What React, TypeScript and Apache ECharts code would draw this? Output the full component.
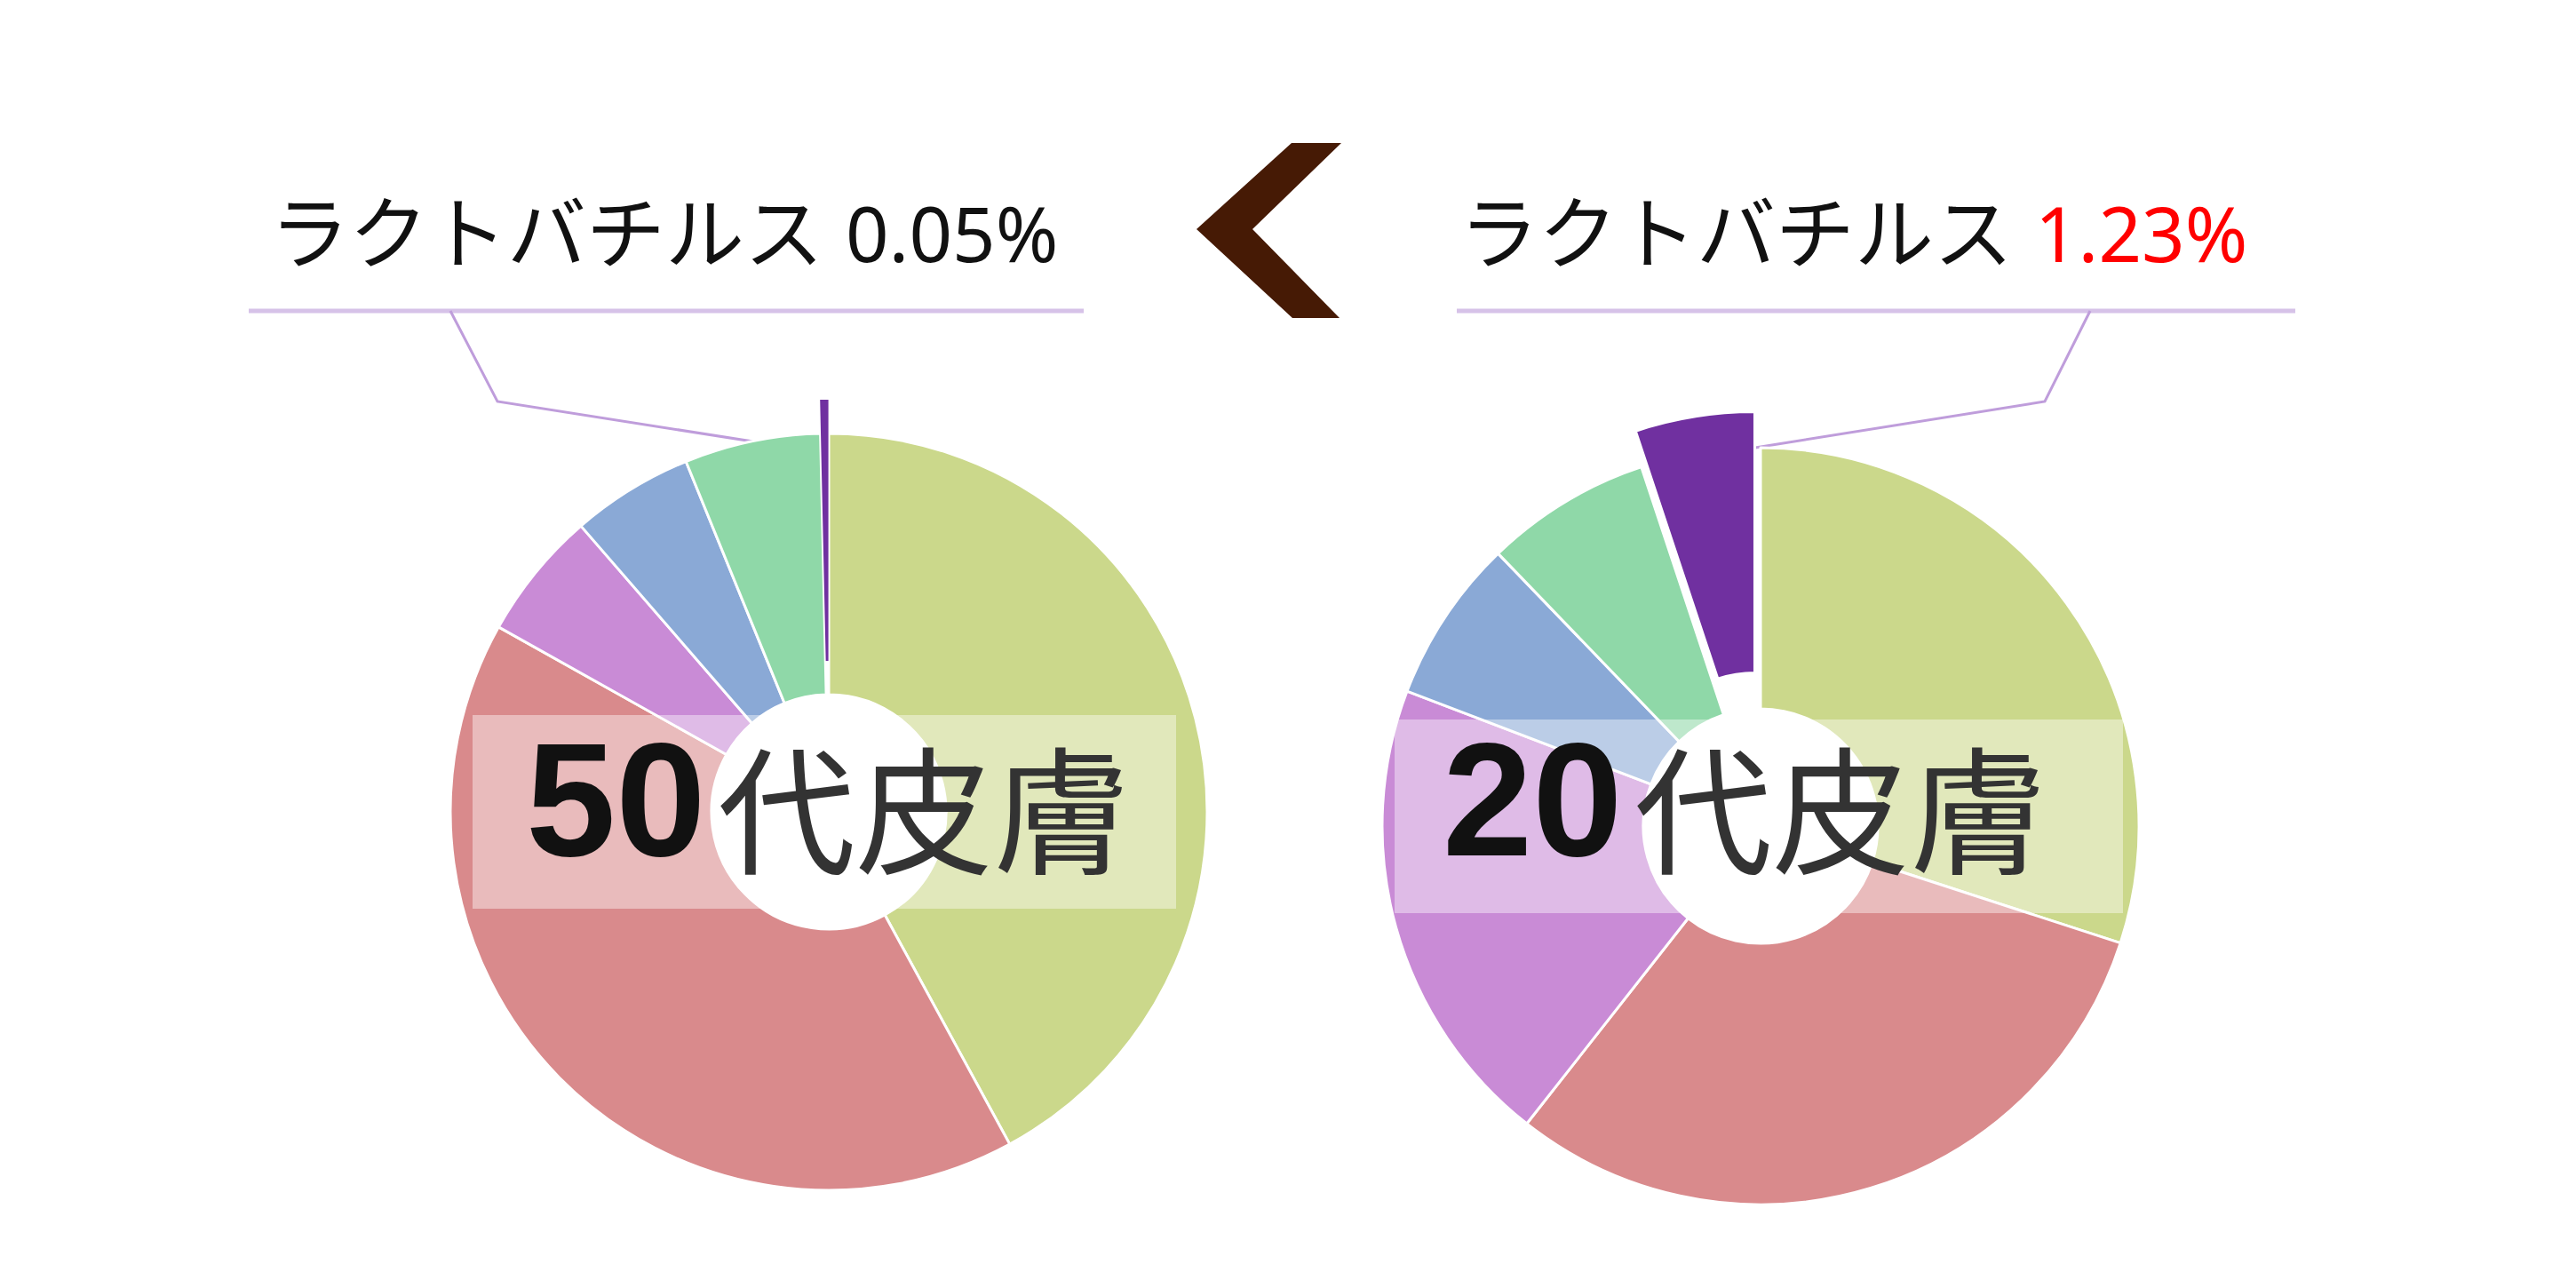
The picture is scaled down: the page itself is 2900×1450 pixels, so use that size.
import { useEffect, useRef } from "react"
import * as echarts from "echarts"

// slice order is clockwise from 12 o'clock
const categories = ["菌A", "菌B", "菌C", "菌D", "菌E", "ラクトバチルス"]
const sliceColors = ["#cbd88b", "#d98a8c", "#c98bd6", "#8aa9d6", "#8fd8a8", "#7030a0"]
const values50 = [42, 41, 5.5, 5.2, 5.8, 0.35]
const values20 = [30, 30.6, 20.2, 7, 7.1, 5.1]
const ageLabels = ["50", "20"]
const ageSuffix = "代皮膚"
const calloutName = "ラクトバチルス"
const calloutValues = ["0.05%", "1.23%"]

const FONT = "Noto Sans CJK JP"
const LATIN_FONT = "Noto Sans"
const DIGIT_FONT = "Liberation Sans"

function pieSeries(values: number[], center: [number, number], offset: number) {
  return {
    type: "pie",
    center,
    radius: [132, 426],
    startAngle: 90,
    clockwise: true,
    selectedMode: "multiple",
    selectedOffset: offset,
    label: { show: false },
    labelLine: { show: false },
    emphasis: { disabled: true },
    itemStyle: { borderColor: "#ffffff", borderWidth: 3 },
    data: values.map((v, i) => ({
      name: categories[i],
      value: v,
      selected: i === categories.length - 1,
      itemStyle: {
        color: sliceColors[i],
        ...(v < 1 ? { borderWidth: 0 } : {}),
      },
    })),
  }
}

function callout(x: number, value: string, valueColor: string) {
  return [
    {
      type: "text",
      x,
      y: 256,
      style: { text: calloutName, font: `400 89px "${FONT}"`, fill: "#111111", verticalAlign: "middle" },
    },
    {
      type: "text",
      x: x + 648,
      y: 262,
      style: { text: value, font: `400 85px "${LATIN_FONT}"`, fill: valueColor, verticalAlign: "middle" },
    },
  ]
}

function ageText(x: number, age: string) {
  return [
    {
      type: "text",
      z: 11,
      x,
      y: 900,
      style: { text: age, font: `bold 182px "${DIGIT_FONT}"`, fill: "#111111", verticalAlign: "middle" },
    },
    {
      type: "text",
      z: 11,
      x: x + 216,
      y: 904,
      style: { text: ageSuffix, font: `400 155px "${FONT}"`, fill: "#333333", verticalAlign: "middle" },
    },
  ]
}

export default function App() {
  const chartRef = useRef<HTMLDivElement>(null)

  useEffect(() => {
    if (!chartRef.current) return
    const chart = echarts.init(chartRef.current, undefined, { renderer: "svg" })

    const leaderStyle = { stroke: "#bf9ddb", lineWidth: 3, fill: null }
    const underlineStyle = { stroke: "#d6c2e8", lineWidth: 5 }
    const bandStyle = { fill: "rgba(255,255,255,0.42)" }

    chart.setOption({
      animation: false,
      backgroundColor: "#ffffff",
      series: [pieSeries(values50, [933, 914], 38), pieSeries(values20, [1982, 930], 41)],
      graphic: [
        // chevron between the two charts
        {
          type: "polygon",
          shape: {
            points: [
              [1347, 258],
              [1454, 161],
              [1510, 161],
              [1410, 258],
              [1508, 358],
              [1455, 358],
            ],
          },
          style: { fill: "#461a05" },
        },
        // callouts
        { type: "line", shape: { x1: 280, y1: 350, x2: 1220, y2: 350 }, style: underlineStyle },
        { type: "polyline", shape: { points: [[507, 350], [560, 452], [905, 506]] }, style: leaderStyle },
        { type: "line", shape: { x1: 1640, y1: 350, x2: 2584, y2: 350 }, style: underlineStyle },
        { type: "polyline", shape: { points: [[2353, 350], [2302, 452], [1976, 504]] }, style: leaderStyle },
        ...callout(304, calloutValues[0], "#111111"),
        ...callout(1643, calloutValues[1], "#ff0000"),
        // translucent bands with the age labels
        { type: "rect", z: 10, shape: { x: 532, y: 805, width: 792, height: 218 }, style: bandStyle },
        { type: "rect", z: 10, shape: { x: 1570, y: 810, width: 820, height: 218 }, style: bandStyle },
        ...ageText(592, ageLabels[0]),
        ...ageText(1624, ageLabels[1]),
      ],
    })

    return () => {
      chart.dispose()
    }
  }, [])

  return (
    <div
      ref={chartRef}
      style={{ position: "absolute", left: 0, top: 0, width: 2900, height: 1450 }}
    />
  )
}
